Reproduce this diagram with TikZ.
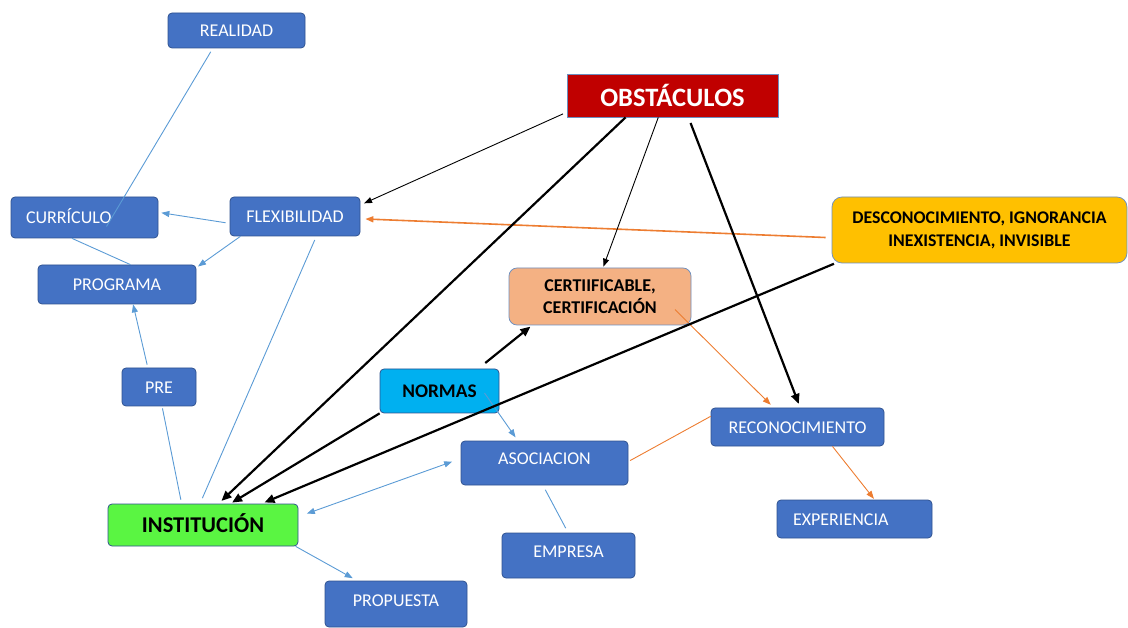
\documentclass[tikz,border=0pt]{standalone}
\usepackage{fontspec}
\setmainfont{Carlito}
\usetikzlibrary{arrows.meta,calc}
\definecolor{azul}{HTML}{4472C4}
\definecolor{borde}{HTML}{2F528F}
\definecolor{bordeclaro}{HTML}{6C8EBF}
\definecolor{rojo}{HTML}{C00000}
\definecolor{verde}{HTML}{5AF542}
\definecolor{celeste}{HTML}{00B0F0}
\definecolor{salmon}{HTML}{F4B183}
\definecolor{ambar}{HTML}{FFC000}
\definecolor{lazul}{HTML}{5B9BD5}
\definecolor{lnar}{HTML}{ED7D31}

\begin{document}
\begin{tikzpicture}[x=1pt,y=-1pt,
    base/.style={draw=borde,line width=0.75pt,rounded corners=4pt,inner sep=0pt,align=center},
    caja/.style={base,fill=azul,text=white,font=\fontsize{18}{21}\selectfont,text height=12.5pt,text depth=0pt},
    tam/.style 2 args={minimum width=#1,minimum height=#2},
    azulin/.style={draw=lazul,line width=0.9pt,>={Triangle[length=8pt,width=6pt]}},
    naranja/.style={draw=lnar,line width=0.9pt,>={Triangle[length=8pt,width=6pt]}},
    negro/.style={line width=2.2pt,>={Triangle[length=10pt,width=8.5pt]}},
    negrito/.style={line width=0.9pt,>={Triangle[length=8pt,width=6pt]}}]
    \useasboundingbox (0,0) rectangle (1128,628);
    \node[caja,tam={137}{35}] (real) at (236.5,30.5) {REALIDAD};
    \node[base,draw=bordeclaro,sharp corners,fill=rojo,text=white,font=\bfseries\fontsize{26.5}{30}\selectfont,tam={211}{43}] (obst) at (672.5,95.5) {OBSTÁCULOS};
    \node[caja,tam={147}{41},text width=117pt,align=left,inner xsep=15pt] (curr) at (84.5,217.5) {CURRÍCULO};
    \node[caja,tam={130}{39}] (flex) at (295,216.5) {FLEXIBILIDAD};
    \node[caja,tam={158}{39}] (prog) at (117,284.5) {PROGRAMA};
    \node[caja,tam={74}{38}] (pre) at (159,387) {PRE};
    \node[base,fill=verde,font=\bfseries\fontsize{22.5}{26}\selectfont,text height=15.5pt,text depth=0pt,tam={190}{42}] (inst) at (203,525) {INSTITUCIÓN};
    \node[caja,tam={142}{46},text depth=8pt] (prop) at (396,604) {PROPUESTA};
    \node[base,fill=celeste,font=\bfseries\fontsize{19.3}{23}\selectfont,text height=13pt,text depth=0pt,tam={119}{44}] (norm) at (439.5,391) {NORMAS};
    \node[caja,tam={167}{44},text depth=9pt] (asoc) at (544.5,463) {ASOCIACION};
    \node[caja,tam={133}{45},text depth=9pt] (empr) at (568.5,555.5) {EMPRESA};
    \node[base,draw=bordeclaro,fill=salmon,font=\bfseries\fontsize{18}{22}\selectfont,tam={182}{57},rounded corners=8pt] (cert) at (600,296.5) {CERTIIFICABLE,\\CERTIFICACIÓN};
    \node[caja,tam={173}{38}] (reco) at (797.5,427) {RECONOCIMIENTO};
    \node[caja,tam={155}{38},text width=123pt,align=left,inner xsep=16pt] (expe) at (854.5,519) {EXPERIENCIA};
    \node[base,draw=bordeclaro,fill=ambar,font=\bfseries\fontsize{17.8}{23}\selectfont,tam={295}{66},rounded corners=10pt] (desc) at (979.5,230) {DESCONOCIMIENTO, IGNORANCIA\\INEXISTENCIA, INVISIBLE};

    \draw[azulin,shorten <=4pt] (real.217) -- ($(curr.center)+(22,9)$);
    \draw[azulin] (curr.239) -- (prog.56);
    \draw[azulin,->,shorten <=4pt,shorten >=3pt] (flex.186) -- (curr.4);
    \draw[azulin,->,shorten >=2pt] (flex.200) -- (prog.12);
    \draw[azulin,->,shorten <=3pt] (pre.120) -- (prog.309);
    \draw[azulin,shorten <=2pt,shorten >=4pt] (pre.279) -- (inst.135);
    \draw[azulin,shorten <=4pt,shorten >=6pt] (flex.317) -- (inst.98);
    \draw[azulin,->,shorten >=4pt] ($(norm.center)+(45,2)$) -- (asoc.140);
    \draw[azulin,<->,shorten <=9pt,shorten >=9pt] (inst.5) -- (asoc.177);
    \draw[azulin,shorten <=5pt,shorten >=5pt] (asoc.266) -- (empr.91);
    \draw[azulin,->,shorten >=5pt] (inst.347) -- (prop.149);

    \draw[naranja,->,line width=1.6pt,shorten <=6pt,shorten >=5pt] (desc.183) -- (flex.358);
    \draw[naranja,->,shorten >=4pt] ($(cert.center)+(75,13)$) -- (reco.141);
    \draw[naranja,shorten <=2pt] (asoc.1) -- (reco.173);
    \draw[naranja,->,shorten >=1pt] (reco.331) -- (expe.44);

    \draw[negrito,->,shorten <=4pt,shorten >=4pt] (obst.189) -- (flex.10);
    \draw[negro,->,shorten >=4pt] (obst.205) -- (inst.54);
    \draw[negrito,->,shorten >=1pt] (obst.237) -- (cert.84);
    \draw[negro,->,shorten <=6pt,shorten >=4pt] (obst.306) -- (reco.82);
    \draw[negro,->,shorten <=9pt,shorten >=2pt] (norm.30) -- (cert.203);
    \draw[negro,->,shorten >=2pt] (norm.south west) -- (inst.38);
    \draw[negro,->,shorten <=1pt,shorten >=3pt] (desc.193) -- (inst.20);
\end{tikzpicture}
\end{document}
